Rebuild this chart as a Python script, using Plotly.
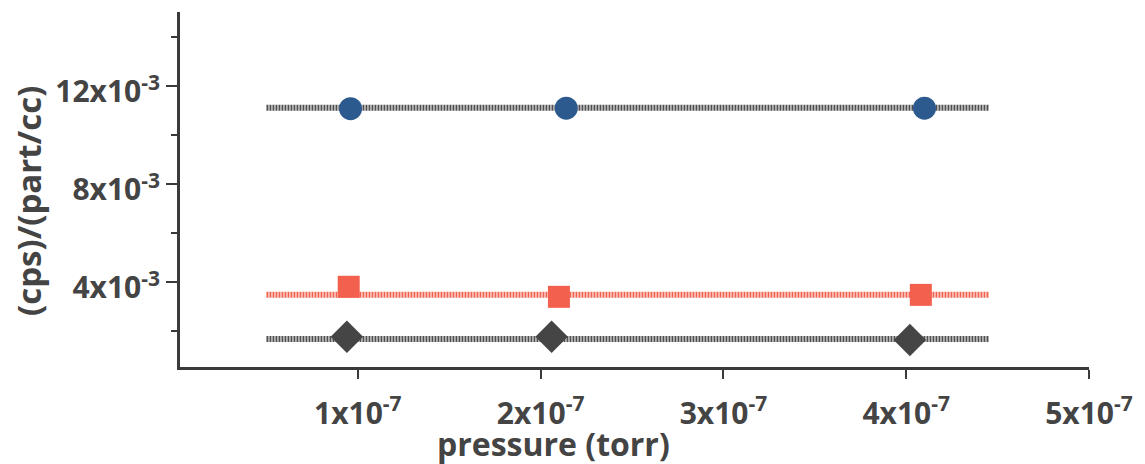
import plotly.graph_objects as go

# ---- data ----
pressure_blue = [0.96e-7, 2.14e-7, 4.10e-7]
signal_blue = [11.06e-3, 11.08e-3, 11.08e-3]

pressure_red = [0.95e-7, 2.10e-7, 4.08e-7]
signal_red = [3.80e-3, 3.39e-3, 3.47e-3]

pressure_dark = [0.94e-7, 2.06e-7, 4.02e-7]
signal_dark = [1.76e-3, 1.76e-3, 1.63e-3]

# horizontal fit lines (mean levels) and their x extents
fit_x = [0.50e-7, 4.45e-7]
fit_blue = [11.1e-3, 11.1e-3]
fit_red = [3.47e-3, 3.47e-3]
fit_dark = [1.67e-3, 1.67e-3]

x_tickvals = [1e-7, 2e-7, 3e-7, 4e-7, 5e-7]
x_ticktext = ["1x10<sup>-7</sup>", "2x10<sup>-7</sup>", "3x10<sup>-7</sup>",
              "4x10<sup>-7</sup>", "5x10<sup>-7</sup>"]
y_tickvals = [4e-3, 8e-3, 12e-3]
y_ticktext = ["4x10<sup>-3</sup>", "8x10<sup>-3</sup>", "12x10<sup>-3</sup>"]

TXT = "#444444"
AX = "#3a3a3a"
FONT = "Open Sans"

fig = go.Figure()

line_style = dict(width=6, dash="2px,1px")
fig.add_trace(go.Scatter(x=fit_x, y=fit_blue, mode="lines",
                         line=dict(color="#505050", **line_style), showlegend=False))
fig.add_trace(go.Scatter(x=fit_x, y=fit_red, mode="lines",
                         line=dict(color="#f26450", **line_style), showlegend=False))
fig.add_trace(go.Scatter(x=fit_x, y=fit_dark, mode="lines",
                         line=dict(color="#505050", **line_style), showlegend=False))

fig.add_trace(go.Scatter(x=pressure_blue, y=signal_blue, mode="markers",
                         marker=dict(symbol="circle", size=23, color="#2d5a8e"),
                         showlegend=False))
fig.add_trace(go.Scatter(x=pressure_red, y=signal_red, mode="markers",
                         marker=dict(symbol="square", size=22, color="#f4604e"),
                         showlegend=False))
fig.add_trace(go.Scatter(x=pressure_dark, y=signal_dark, mode="markers",
                         marker=dict(symbol="diamond", size=25, color="#454545"),
                         showlegend=False))

fig.update_layout(
    width=1145, height=464,
    margin=dict(l=180, r=52, t=12, b=97),
    paper_bgcolor="white", plot_bgcolor="white",
    font=dict(family=FONT, color=TXT, size=28, weight="bold"),
    xaxis=dict(
        range=[0.027e-7, 5.0e-7],
        showgrid=False, zeroline=False,
        showline=True, linecolor=AX, linewidth=3,
        ticks="outside", ticklen=9, tickwidth=2, tickcolor=AX,
        tickvals=x_tickvals, ticktext=x_ticktext,
        tickfont=dict(family=FONT, size=30, color=TXT, weight="bold"),
        ticklabelstandoff=9,
    ),
    yaxis=dict(
        range=[0.53e-3, 15.0e-3],
        showgrid=False, zeroline=False,
        showline=True, linecolor=AX, linewidth=3,
        ticks="outside", ticklen=11, tickwidth=2, tickcolor=AX,
        tickvals=y_tickvals, ticktext=y_ticktext,
        tickfont=dict(family=FONT, size=30, color=TXT, weight="bold"),
        ticklabelshift=6,
        minor=dict(tickvals=[2e-3, 6e-3, 10e-3, 14e-3], ticks="outside",
                   ticklen=6, tickwidth=2, tickcolor=AX),
    ),
    annotations=[
        dict(text="pressure (torr)", xref="paper", yref="paper",
             x=0.411, y=-0.216, xanchor="center", yanchor="middle",
             showarrow=False,
             font=dict(family=FONT, size=32, color=TXT, weight="bold")),
        dict(text="(cps)/(part/cc)", xref="paper", yref="paper",
             x=-0.166, y=0.468, xanchor="center", yanchor="middle",
             textangle=-90, showarrow=False,
             font=dict(family=FONT, size=33, color=TXT, weight="bold")),
    ],
)

fig.write_html("out.html")
